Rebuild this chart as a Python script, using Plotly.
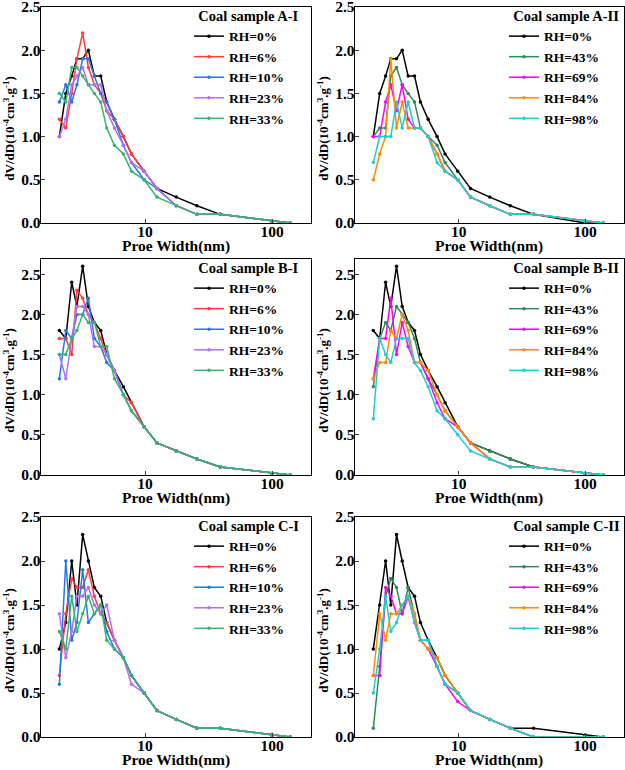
import plotly.graph_objects as go

# Pore width grid (nm)
X = [2.11, 2.37, 2.64, 2.9, 3.22, 3.57, 3.98, 4.47, 4.98, 5.73, 6.74, 7.8, 9.82, 12.4, 17.6, 25.6, 39.1, 100, 139]

# Coal sample A-I
A1_0 = [1.0, 1.5, 1.7, 1.9, 1.9, 2.0, 1.7, 1.7, 1.4, 1.2, 1.0, 0.8, 0.6, 0.4, 0.3, 0.2, 0.1, 0.02, 0.0]
A1_6 = [1.2, 1.1, 1.5, 1.9, 2.2, 1.8, 1.6, 1.5, 1.3, 1.2, 1.0, 0.8, 0.6, 0.4, 0.2, 0.1, 0.1, 0.02, 0.0]
A1_10 = [1.4, 1.6, 1.4, 1.6, 1.9, 1.9, 1.7, 1.5, 1.4, 1.2, 0.9, 0.7, 0.5, 0.4, 0.2, 0.1, 0.1, 0.02, 0.0]
A1_23 = [1.0, 1.2, 1.6, 1.7, 1.8, 1.6, 1.6, 1.6, 1.3, 1.1, 0.9, 0.7, 0.6, 0.4, 0.2, 0.1, 0.1, 0.02, 0.0]
A1_33 = [1.5, 1.4, 1.8, 1.8, 1.7, 1.6, 1.5, 1.4, 1.1, 0.9, 0.8, 0.6, 0.5, 0.3, 0.2, 0.1, 0.1, 0.02, 0.0]

# Coal sample A-II
A2_0 = [1.0, 1.5, 1.7, 1.9, 1.9, 2.0, 1.7, 1.7, 1.4, 1.2, 1.0, 0.8, 0.6, 0.4, 0.3, 0.2, 0.1, 0.0, 0.0]
A2_43 = [1.0, 1.1, 1.1, 1.7, 1.8, 1.6, 1.5, 1.4, 1.1, 1.0, 0.9, 0.7, 0.5, 0.3, 0.2, 0.1, 0.1, 0.02, 0.0]
A2_69 = [1.0, 1.0, 1.4, 1.6, 1.3, 1.6, 1.2, 1.1, 1.1, 1.0, 0.8, 0.6, 0.5, 0.3, 0.2, 0.1, 0.1, 0.02, 0.0]
A2_84 = [0.5, 0.8, 1.0, 1.9, 1.1, 1.4, 1.1, 1.1, 1.1, 1.0, 0.8, 0.6, 0.5, 0.3, 0.2, 0.1, 0.1, 0.02, 0.0]
A2_98 = [0.7, 1.0, 1.0, 1.0, 1.4, 1.1, 1.4, 1.1, 1.1, 1.0, 0.7, 0.6, 0.5, 0.3, 0.2, 0.1, 0.1, 0.02, 0.0]

# Coal sample B-I
B1_0 = [1.8, 1.7, 2.4, 2.1, 2.6, 2.1, 1.9, 1.8, 1.5, 1.3, 1.1, 0.9, 0.6, 0.4, 0.3, 0.2, 0.1, 0.02, 0.0]
B1_6 = [1.7, 1.7, 1.5, 2.3, 2.2, 2.0, 1.9, 1.7, 1.5, 1.3, 1.0, 0.9, 0.6, 0.4, 0.3, 0.2, 0.1, 0.02, 0.0]
B1_10 = [1.2, 1.8, 1.7, 2.0, 2.0, 2.2, 1.7, 1.6, 1.4, 1.3, 1.0, 0.8, 0.6, 0.4, 0.3, 0.2, 0.1, 0.02, 0.0]
B1_23 = [1.5, 1.2, 1.7, 2.1, 2.1, 2.0, 1.6, 1.6, 1.5, 1.3, 1.0, 0.8, 0.6, 0.4, 0.3, 0.2, 0.1, 0.02, 0.0]
B1_33 = [1.5, 1.5, 1.7, 1.8, 2.0, 1.9, 1.9, 1.6, 1.6, 1.2, 1.0, 0.8, 0.6, 0.4, 0.3, 0.2, 0.1, 0.02, 0.0]

# Coal sample B-II
B2_0 = [1.8, 1.7, 2.4, 2.1, 2.6, 2.1, 1.9, 1.8, 1.5, 1.3, 1.1, 0.9, 0.6, 0.4, 0.3, 0.2, 0.1, 0.02, 0.0]
B2_43 = [1.1, 1.7, 1.9, 1.8, 2.1, 2.0, 1.9, 1.7, 1.4, 1.2, 1.0, 0.8, 0.6, 0.4, 0.3, 0.2, 0.1, 0.02, 0.0]
B2_69 = [1.2, 1.7, 1.7, 2.2, 1.5, 1.9, 1.6, 1.4, 1.4, 1.2, 0.9, 0.7, 0.6, 0.4, 0.2, 0.1, 0.1, 0.02, 0.0]
B2_84 = [1.2, 1.4, 1.4, 1.8, 1.7, 2.0, 1.8, 1.4, 1.4, 1.3, 1.0, 0.8, 0.6, 0.4, 0.2, 0.1, 0.1, 0.02, 0.0]
B2_98 = [0.7, 1.7, 1.5, 1.4, 1.7, 1.7, 1.7, 1.4, 1.3, 1.1, 0.8, 0.7, 0.5, 0.3, 0.2, 0.1, 0.1, 0.02, 0.0]

# Coal sample C-I
C1_0 = [1.0, 1.3, 2.0, 1.5, 2.3, 2.0, 1.7, 1.6, 1.3, 1.1, 0.9, 0.7, 0.5, 0.3, 0.2, 0.1, 0.1, 0.02, 0.0]
C1_6 = [0.7, 1.4, 1.8, 1.7, 1.7, 1.9, 1.6, 1.4, 1.3, 1.1, 0.9, 0.7, 0.5, 0.3, 0.2, 0.1, 0.1, 0.03, 0.0]
C1_10 = [0.6, 2.0, 1.1, 1.3, 1.9, 1.3, 1.4, 1.5, 1.2, 1.0, 0.9, 0.7, 0.5, 0.3, 0.2, 0.1, 0.1, 0.02, 0.0]
C1_23 = [1.4, 0.9, 1.2, 1.6, 1.6, 1.7, 1.5, 1.4, 1.5, 1.1, 0.9, 0.6, 0.5, 0.3, 0.2, 0.1, 0.1, 0.02, 0.0]
C1_33 = [1.2, 1.0, 1.6, 1.2, 1.4, 1.6, 1.4, 1.5, 1.1, 1.0, 0.9, 0.7, 0.5, 0.3, 0.2, 0.1, 0.1, 0.02, 0.0]

# Coal sample C-II
C2_0 = [1.0, 1.5, 2.0, 1.5, 2.3, 2.0, 1.7, 1.6, 1.3, 1.1, 0.9, 0.7, 0.5, 0.3, 0.2, 0.1, 0.1, 0.02, 0.0]
C2_43 = [0.1, 0.8, 1.6, 1.8, 1.7, 1.4, 1.7, 1.4, 1.1, 1.1, 0.8, 0.6, 0.5, 0.3, 0.2, 0.1, 0.0, 0.0, 0.0]
C2_69 = [0.7, 0.7, 1.7, 1.6, 1.4, 1.4, 1.6, 1.3, 1.1, 1.0, 0.8, 0.6, 0.4, 0.3, 0.2, 0.1, 0.0, 0.0, 0.0]
C2_84 = [0.7, 1.4, 1.1, 1.4, 1.4, 1.5, 1.6, 1.4, 1.1, 1.0, 0.9, 0.7, 0.5, 0.3, 0.2, 0.1, 0.0, 0.0, 0.0]
C2_98 = [0.5, 1.0, 1.6, 1.2, 1.3, 1.5, 1.6, 1.3, 1.1, 1.1, 0.8, 0.6, 0.5, 0.3, 0.2, 0.1, 0.0, 0.0, 0.0]

NAMES_I = ["RH=0%", "RH=6%", "RH=10%", "RH=23%", "RH=33%"]
NAMES_II = ["RH=0%", "RH=43%", "RH=69%", "RH=84%", "RH=98%"]
COLORS_I = ["#000000", "#ff3b3b", "#2478ee", "#b56ef5", "#35b56e"]
COLORS_II = ["#000000", "#2e8b57", "#ff00ff", "#ff8c00", "#1ccfcf"]

PANELS = [
    ("Coal sample A-I", [A1_0, A1_6, A1_10, A1_23, A1_33], NAMES_I, COLORS_I, 2.5),
    ("Coal sample A-II", [A2_0, A2_43, A2_69, A2_84, A2_98], NAMES_II, COLORS_II, 2.5),
    ("Coal sample B-I", [B1_0, B1_6, B1_10, B1_23, B1_33], NAMES_I, COLORS_I, 2.69),
    ("Coal sample B-II", [B2_0, B2_43, B2_69, B2_84, B2_98], NAMES_II, COLORS_II, 2.69),
    ("Coal sample C-I", [C1_0, C1_6, C1_10, C1_23, C1_33], NAMES_I, COLORS_I, 2.5),
    ("Coal sample C-II", [C2_0, C2_43, C2_69, C2_84, C2_98], NAMES_II, COLORS_II, 2.5),
]

X_TITLE = "Proe Width(nm)"
Y_TITLE = "dV/dD(10<sup>-4</sup>cm<sup>3</sup>.g<sup>-1</sup>)"

W, H = 625, 770
COLS = [(40.7, 310.7), (354.7, 623.7)]
ROWS = [(7, 223), (259, 475), (517, 737)]
LEG_LEFT = [189, 504]

FONT = "Liberation Serif"
fig = go.Figure()
layout = dict(
    width=W, height=H, margin=dict(l=0, r=0, t=0, b=0, autoexpand=False),
    paper_bgcolor="white", plot_bgcolor="white",
    font=dict(family=FONT, size=15, color="black", weight="bold"),
)
annotations = []

for i, (title, series, names, colors, ymax) in enumerate(PANELS):
    r, c = divmod(i, 2)
    k = "" if i == 0 else str(i + 1)
    xa, ya = "x" + k, "y" + k
    lg = "legend" + k
    x0, x1 = COLS[c]
    yt, yb = ROWS[r]
    for vals, nm, col in zip(series, names, colors):
        fig.add_trace(go.Scatter(
            x=X, y=vals, name=nm, mode="lines+markers",
            line=dict(color=col, width=1.5),
            marker=dict(color=col, size=3.5, symbol="circle"),
            xaxis=xa, yaxis=ya, legend=lg,
        ))
    layout["xaxis" + k] = dict(
        domain=[x0 / W, x1 / W], anchor=ya, type="log",
        range=[0.177, 2.305], tickvals=[10, 100], ticktext=["10", "100"],
        showline=True, mirror=True, linecolor="black", linewidth=1.2,
        ticks="inside", ticklen=4, tickwidth=1.2, showgrid=False, zeroline=False,
        tickfont=dict(size=15.5), ticklabelstandoff=-6, ticklabeloverflow="allow",
    )
    layout["yaxis" + k] = dict(
        domain=[1 - yb / H, 1 - yt / H], anchor=xa,
        range=[0, ymax], dtick=0.5, tickformat=".1f",
        showline=True, mirror=True, linecolor="black", linewidth=1.2,
        ticks="inside", ticklen=4, tickwidth=1.2, showgrid=False, zeroline=False,
        tickfont=dict(size=15.5), ticklabelstandoff=-4, ticklabeloverflow="allow",
    )
    # axis titles
    annotations.append(dict(
        text=X_TITLE, xref="paper", yref="paper",
        x=(x0 + x1) / 2 / W, y=1 - (yb + 23) / H,
        xanchor="center", yanchor="middle", showarrow=False,
        font=dict(size=15.5),
    ))
    annotations.append(dict(
        text=Y_TITLE, xref="paper", yref="paper",
        x=(x0 - 32) / W, y=1 - ((yt + yb) / 2 + 13) / H,
        xanchor="center", yanchor="middle", showarrow=False,
        textangle=-90, font=dict(size=13),
    ))
    layout[lg] = dict(
        x=LEG_LEFT[c] / W, xanchor="left", y=1 - (yt - 5) / H, yanchor="top",
        bgcolor="rgba(0,0,0,0)", borderwidth=0,
        font=dict(size=13.5), tracegroupgap=0,
        title=dict(text="&nbsp;&nbsp;" + title, font=dict(size=14.5), side="top"),
        itemwidth=30,
    )

layout["annotations"] = annotations
fig.update_layout(**layout)
fig.write_html(
    "out.html",
    config={"displayModeBar": False},
    post_script="document.body.style.margin='0';document.body.style.overflow='hidden';",
)
